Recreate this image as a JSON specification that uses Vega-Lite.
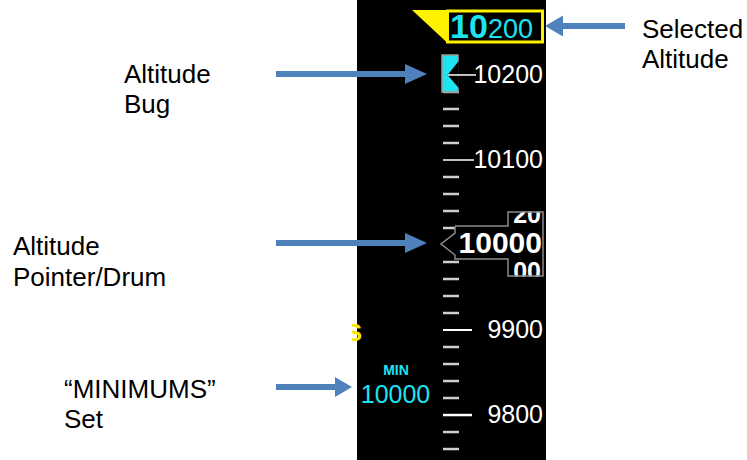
{
  "$schema": "https://vega.github.io/schema/vega-lite/v6.json",
  "width": 747,
  "height": 460,
  "autosize": {"type": "fit", "contains": "padding"},
  "padding": 0,
  "background": "white",
  "config": {"view": {"stroke": null}, "text": {"font": "Liberation Sans"}},
  "encoding": {
    "x": {"field": "x", "type": "quantitative", "scale": {"domain": [0, 747], "nice": false, "zero": false}, "axis": null},
    "y": {"field": "alt", "type": "quantitative", "scale": {"domain": [9747.1, 10288.2], "nice": false, "zero": false}, "axis": null}
  },
  "layer": [
    {
      "data": {"values": [{"x": 357, "x2": 546, "alt": 9747.1, "alt2": 10288.2}]},
      "mark": {"type": "rect", "color": "#000000"},
      "encoding": {"x2": {"field": "x2"}, "y2": {"field": "alt2"}}
    },
    {
      "data": {"values": [
        {"x": 443, "x2": 459, "alt": 9760}, {"x": 443, "x2": 459, "alt": 9780}, {"x": 443, "x2": 459, "alt": 9820}, {"x": 443, "x2": 459, "alt": 9840},
        {"x": 443, "x2": 459, "alt": 9860}, {"x": 443, "x2": 459, "alt": 9880}, {"x": 443, "x2": 459, "alt": 9920}, {"x": 443, "x2": 459, "alt": 9940},
        {"x": 443, "x2": 459, "alt": 9960}, {"x": 443, "x2": 459, "alt": 9980}, {"x": 443, "x2": 459, "alt": 10000}, {"x": 443, "x2": 459, "alt": 10020},
        {"x": 443, "x2": 459, "alt": 10040}, {"x": 443, "x2": 459, "alt": 10060}, {"x": 443, "x2": 459, "alt": 10080}, {"x": 443, "x2": 459, "alt": 10120},
        {"x": 443, "x2": 459, "alt": 10140}, {"x": 443, "x2": 459, "alt": 10160}, {"x": 443, "x2": 459, "alt": 10180}
      ]},
      "mark": {"type": "rule", "color": "#cfcfcf", "strokeWidth": 2.5},
      "encoding": {"x2": {"field": "x2"}}
    },
    {
      "data": {"values": [{"x": 443, "x2": 474, "alt": 10100}, {"x": 443, "x2": 472, "alt": 9900}, {"x": 443, "x2": 472, "alt": 9800}]},
      "mark": {"type": "rule", "color": "#ffffff"},
      "encoding": {
        "x2": {"field": "x2"},
        "strokeWidth": {"field": "alt", "type": "ordinal", "scale": {"domain": [10100, 9900, 9800], "range": [1.5, 2.5, 4]}, "legend": null}
      }
    },
    {
      "data": {"values": [{"x": 543, "alt": 10200, "label": "10200"}, {"x": 543, "alt": 10100, "label": "10100"}, {"x": 543, "alt": 9900, "label": "9900"}, {"x": 543, "alt": 9800, "label": "9800"}]},
      "mark": {"type": "text", "align": "right", "baseline": "middle", "fontSize": 25, "color": "#ffffff"},
      "encoding": {"text": {"field": "label"}}
    },
    {
      "data": {"values": [{"x": 412, "alt": 10276.5, "alt2": 10276.5}, {"x": 447.5, "alt": 10276.5, "alt2": 10237.6}]},
      "mark": {"type": "area", "color": "#FFF200"},
      "encoding": {"y2": {"field": "alt2"}}
    },
    {
      "data": {"values": [{"x": 447.5, "x2": 542.5, "alt": 10275.3, "alt2": 10238.8}]},
      "mark": {"type": "rect", "fill": "#000000", "stroke": "#FFF200", "strokeWidth": 3},
      "encoding": {"x2": {"field": "x2"}, "y2": {"field": "alt2"}}
    },
    {
      "data": {"values": [{"x": 450, "alt": 10243.5, "label": "10"}]},
      "mark": {"type": "text", "align": "left", "baseline": "alphabetic", "fontSize": 34, "fontWeight": "bold", "color": "#1EE3F0"},
      "encoding": {"text": {"field": "label"}}
    },
    {
      "data": {"values": [{"x": 488, "alt": 10243.5, "label": "200"}]},
      "mark": {"type": "text", "align": "left", "baseline": "alphabetic", "fontSize": 27, "color": "#1EE3F0"},
      "encoding": {"text": {"field": "label"}}
    },
    {
      "data": {"values": [{"x": 442, "x2": 458, "alt": 10223.5, "alt2": 10180}]},
      "mark": {"type": "rect", "fill": "#1EE3F0", "stroke": "#9a9a9a", "strokeWidth": 1.5},
      "encoding": {"x2": {"field": "x2"}, "y2": {"field": "alt2"}}
    },
    {
      "data": {"values": [{"x": 447.5, "alt": 10200, "alt2": 10200}, {"x": 458.8, "alt": 10216.5, "alt2": 10184.7}]},
      "mark": {"type": "area", "color": "#000000"},
      "encoding": {"y2": {"field": "alt2"}}
    },
    {
      "data": {"values": [{"x": 448, "x2": 476, "alt": 10200}]},
      "mark": {"type": "rule", "color": "#ffffff", "strokeWidth": 1.5},
      "encoding": {"x2": {"field": "x2"}}
    },
    {
      "data": {"values": [{"x": 455, "x2": 543, "alt": 10022.4, "alt2": 9983.5}, {"x": 508, "x2": 543, "alt": 10038.8, "alt2": 9963.5}]},
      "mark": {"type": "rect", "color": "#000000"},
      "encoding": {"x2": {"field": "x2"}, "y2": {"field": "alt2"}}
    },
    {
      "data": {"values": [{"x": 441, "alt": 10001.2, "alt2": 10001.2}, {"x": 455.5, "alt": 10014.1, "alt2": 9988.2}]},
      "mark": {"type": "area", "color": "#000000"},
      "encoding": {"y2": {"field": "alt2"}}
    },
    {
      "data": {"values": [{"x": 542, "alt": 9990.6, "label": "10000"}]},
      "mark": {"type": "text", "align": "right", "baseline": "alphabetic", "fontSize": 30, "fontWeight": "bold", "color": "#ffffff"},
      "encoding": {"text": {"field": "label"}}
    },
    {
      "data": {"values": [{"x": 541, "alt": 10025.9, "label": "20"}, {"x": 541, "alt": 9958.8, "label": "00"}]},
      "mark": {"type": "text", "align": "right", "baseline": "alphabetic", "fontSize": 25, "fontWeight": "bold", "color": "#ffffff"},
      "encoding": {"text": {"field": "label"}}
    },
    {
      "data": {"values": [{"x": 508.8, "x2": 545, "alt": 10058, "alt2": 10039.5}, {"x": 508.8, "x2": 545, "alt": 9962.8, "alt2": 9944}]},
      "mark": {"type": "rect", "color": "#000000"},
      "encoding": {"x2": {"field": "x2"}, "y2": {"field": "alt2"}}
    },
    {
      "data": {"values": [
        {"i": 0, "x": 455, "alt": 10022.4}, {"i": 1, "x": 508, "alt": 10022.4}, {"i": 2, "x": 508, "alt": 10038.8}, {"i": 3, "x": 543, "alt": 10038.8},
        {"i": 4, "x": 543, "alt": 9963.5}, {"i": 5, "x": 508, "alt": 9963.5}, {"i": 6, "x": 508, "alt": 9983.5}, {"i": 7, "x": 455, "alt": 9983.5},
        {"i": 8, "x": 455, "alt": 9988.2}, {"i": 9, "x": 441, "alt": 10001.2}, {"i": 10, "x": 455, "alt": 10014.1}, {"i": 11, "x": 455, "alt": 10022.4}
      ]},
      "mark": {"type": "line", "color": "#8a8a8a", "strokeWidth": 1.5},
      "encoding": {"order": {"field": "i", "type": "quantitative"}}
    },
    {
      "data": {"values": [{"x": 396, "alt": 9847.1, "label": "MIN"}]},
      "mark": {"type": "text", "align": "center", "baseline": "alphabetic", "fontSize": 14, "fontWeight": "bold", "color": "#1EE3F0"},
      "encoding": {"text": {"field": "label"}}
    },
    {
      "data": {"values": [{"x": 395.5, "alt": 9814.1, "label": "10000"}]},
      "mark": {"type": "text", "align": "center", "baseline": "alphabetic", "fontSize": 25, "color": "#1EE3F0"},
      "encoding": {"text": {"field": "label"}}
    },
    {
      "data": {"values": [{"x": 362, "alt": 9887, "label": "S"}]},
      "mark": {"type": "text", "align": "right", "baseline": "alphabetic", "fontSize": 24, "fontWeight": "bold", "color": "#F5E600"},
      "encoding": {"text": {"field": "label"}}
    },
    {
      "data": {"values": [{"x": 330, "x2": 352, "alt": 9914, "alt2": 9880}]},
      "mark": {"type": "rect", "color": "#ffffff"},
      "encoding": {"x2": {"field": "x2"}, "y2": {"field": "alt2"}}
    },
    {
      "data": {"values": [{"x": 276, "x2": 407, "alt": 10201.2}, {"x": 276, "x2": 407, "alt": 10002.4}, {"x": 276, "x2": 337, "alt": 9832.9}, {"x": 561, "x2": 625, "alt": 10257.6}]},
      "mark": {"type": "rule", "color": "#4F81BD", "strokeWidth": 6},
      "encoding": {"x2": {"field": "x2"}}
    },
    {
      "data": {"values": [
        {"id": "bug", "x": 405, "alt": 10213, "alt2": 10189.4}, {"id": "bug", "x": 427, "alt": 10201.2, "alt2": 10201.2},
        {"id": "drum", "x": 405, "alt": 10014.2, "alt2": 9990.6}, {"id": "drum", "x": 427, "alt": 10002.4, "alt2": 10002.4},
        {"id": "min", "x": 335, "alt": 9844.7, "alt2": 9821.1}, {"id": "min", "x": 352, "alt": 9832.9, "alt2": 9832.9},
        {"id": "sel", "x": 545, "alt": 10257.6, "alt2": 10257.6}, {"id": "sel", "x": 563, "alt": 10270, "alt2": 10245.2}
      ]},
      "mark": {"type": "area", "color": "#4F81BD"},
      "encoding": {"y2": {"field": "alt2"}, "detail": {"field": "id"}}
    },
    {
      "data": {"values": [
        {"x": 124, "alt": 10190.6, "label": "Altitude"}, {"x": 124, "alt": 10155.3, "label": "Bug"},
        {"x": 13, "alt": 9988.2, "label": "Altitude"}, {"x": 13, "alt": 9951.8, "label": "Pointer/Drum"},
        {"x": 64, "alt": 9820, "label": "“MINIMUMS”"}, {"x": 64, "alt": 9784.7, "label": "Set"},
        {"x": 642, "alt": 10243.5, "label": "Selected"}, {"x": 642, "alt": 10208.2, "label": "Altitude"}
      ]},
      "mark": {"type": "text", "align": "left", "baseline": "alphabetic", "fontSize": 26, "color": "#000000"},
      "encoding": {"text": {"field": "label"}}
    }
  ]
}
